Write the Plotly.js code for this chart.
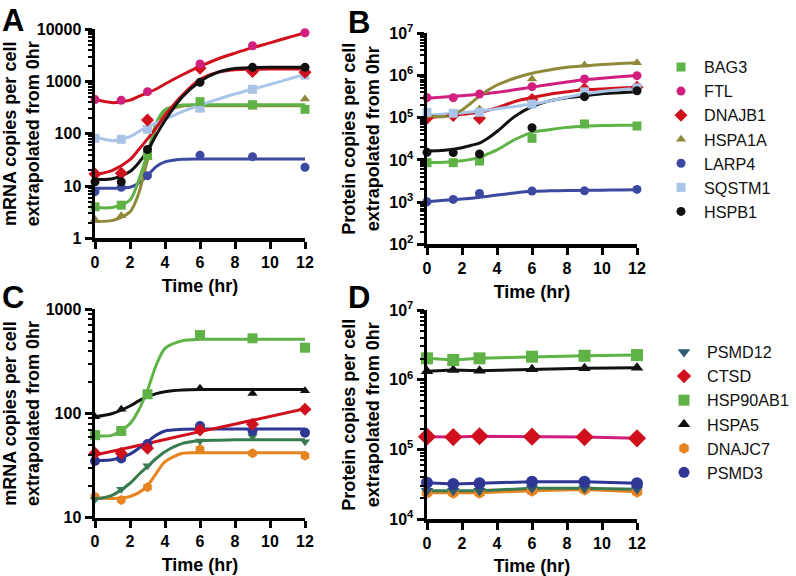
<!DOCTYPE html>
<html><head><meta charset="utf-8">
<script src="https://cdn.plot.ly/plotly-3.0.1.min.js"></script>
<style>html,body{margin:0;padding:0;background:#fff}#chart{width:796px;height:576px}</style>
</head><body><div id="chart"></div>
<script>
// ---------- DATA ----------
const timePts = [0, 1.5, 3, 6, 9, 12];
const fitTime = [0, 1, 2, 2.5, 3, 3.5, 4, 5, 6, 7, 8, 9, 10, 11, 12];

// Panel A: mRNA (markers)
const aBAG3   = [4.0, 4.3, 39, 412, 360, 294];
const aFTL    = [452, 437, 640, 2170, 4850, 8600];
const aDNAJB1 = [17, 17.5, 184, 1790, 1550, 1500];
const aHSPA1A = [2.3, 2.7, 35, 294, 321, 463];
const aLARP4  = [7.8, 9.5, 15.8, 39, 36.5, 22.9];
const aSQSTM1 = [82, 78.5, 122, 310, 710, 1330];
const aHSPB1  = [12.1, 12.1, 50, 967, 1870, 1870];
// Panel A: fitted curves
const aFitBAG3   = [3.9, 3.9, 5.4, 13, 42, 160, 290, 355, 360, 360, 360, 360, 360, 360, 360];
const aFitFTL    = [452, 394, 440, 520, 610, 720, 900, 1350, 1950, 2700, 3500, 4450, 5500, 6900, 8500];
const aFitDNAJB1 = [16.5, 20, 32, 50, 80, 130, 225, 550, 1100, 1500, 1680, 1720, 1730, 1730, 1730];
const aFitHSPA1A = [2.1, 2.2, 3.2, 7.3, 32, 137, 265, 340, 345, 345, 345, 345, 345, 345, 345];
const aFitLARP4  = [9.1, 9.1, 9.5, 11.3, 16, 23.5, 29, 32.5, 33, 33, 33, 33, 33, 33, 33];
const aFitSQSTM1 = [88, 74, 88, 110, 137, 160, 190, 265, 356, 457, 577, 710, 885, 1100, 1380];
const aFitHSPB1  = [13.5, 13.8, 19, 28, 48, 95, 180, 510, 1000, 1500, 1780, 1850, 1870, 1870, 1870];

// Panel B: protein (markers)
const bBAG3   = [8.6e3, 8.6e3, 9.4e3, 3.25e4, 7.1e4, 6.35e4];
const bFTL    = [2.98e5, 2.98e5, 3.65e5, 5.43e5, 8.26e5, 9.9e5];
const bDNAJB1 = [9.7e4, 1.12e5, 9.7e4, 2.7e5, 4.8e5, 5.25e5];
const bHSPA1A = [1.12e5, 1.27e5, 1.6e5, 8.3e5, 1.77e6, 2.0e6];
const bLARP4  = [1.02e3, 1.16e3, 1.6e3, 1.83e3, 1.85e3, 2.0e3];
const bSQSTM1 = [1.34e5, 1.27e5, 1.34e5, 2.1e5, 4.1e5, 5.1e5];
const bHSPB1  = [1.51e4, 1.49e4, 1.38e4, 5.8e4, 3.15e5, 4.36e5];
// Panel B: fitted curves
const bFitBAG3   = [8.7e3, 8.8e3, 9.5e3, 1.03e4, 1.13e4, 1.4e4, 1.72e4, 3.0e4, 4.5e4, 5.2e4, 5.9e4, 6.3e4, 6.5e4, 6.6e4, 6.6e4];
const bFitFTL    = [2.9e5, 3.1e5, 3.3e5, 3.45e5, 3.6e5, 3.8e5, 4.0e5, 4.6e5, 5.3e5, 6.1e5, 7.0e5, 7.9e5, 8.6e5, 9.3e5, 1.0e6];
const bFitDNAJB1 = [1.0e5, 1.1e5, 1.2e5, 1.27e5, 1.34e5, 1.5e5, 1.72e5, 2.4e5, 3.0e5, 3.6e5, 4.1e5, 4.6e5, 4.8e5, 5.05e5, 5.3e5];
const bFitHSPA1A = [1.13e5, 1.06e5, 1.52e5, 2.2e5, 3.27e5, 4.5e5, 5.96e5, 8.6e5, 1.13e6, 1.35e6, 1.56e6, 1.7e6, 1.83e6, 1.92e6, 2.0e6];
const bFitLARP4  = [1.02e3, 1.1e3, 1.18e3, 1.23e3, 1.3e3, 1.38e3, 1.47e3, 1.65e3, 1.8e3, 1.85e3, 1.88e3, 1.9e3, 1.92e3, 1.94e3, 1.95e3];
const bFitSQSTM1 = [1.13e5, 1.22e5, 1.3e5, 1.37e5, 1.43e5, 1.52e5, 1.62e5, 1.85e5, 2.1e5, 2.5e5, 3.05e5, 3.7e5, 4.2e5, 4.6e5, 4.9e5];
const bFitHSPB1  = [1.63e4, 1.7e4, 1.95e4, 2.2e4, 2.5e4, 3.3e4, 4.7e4, 1.06e5, 1.82e5, 2.5e5, 2.98e5, 3.3e5, 3.7e5, 3.9e5, 4.13e5];

// Panel C: mRNA (markers)
const cPSMD12   = [15, 18.7, 31.5, 54.5, 60, 53.6];
const cCTSD     = [41.5, 41.5, 46.4, 69.5, 79, 110];
const cHSP90AB1 = [62, 68, 153, 566, 527, 428];
const cHSPA5    = [93, 110, 145, 175, 156, 165];
const cDNAJC7   = [15.9, 14.8, 19.6, 45.3, 41.5, 39.4];
const cPSMD3    = [35, 37, 51, 76, 68, 65.5];
// Panel C: fitted curves
const cFitPSMD12   = [15, 16.5, 21.4, 26, 31, 37, 43, 51.7, 54.8, 55.5, 56, 56, 56, 56, 56];
const ctsdFitTime  = [0, 3, 6, 9, 12];
const cFitCTSD     = [40, 51.5, 67, 86, 111];
const cFitHSP90AB1 = [61, 62, 80, 108, 168, 292, 422, 500, 515, 515, 515, 515, 515, 515, 515];
const cFitHSPA5    = [93, 100, 118, 132, 145, 155, 162, 168, 170, 170, 170, 170, 170, 170, 170];
const cFitDNAJC7   = [15.5, 15.3, 16, 17.4, 20.3, 26.7, 34.5, 41.5, 42, 42, 42, 42, 42, 42, 42];
const cFitPSMD3    = [35.5, 36, 40.8, 46.4, 53.6, 62, 68, 70.5, 71, 71, 71, 71, 71, 71, 71];

// Panel D: protein
const dPSMD12   = [2.57e4, 2.57e4, 2.57e4, 2.78e4, 2.78e4, 2.7e4];
const dCTSD     = [1.53e5, 1.51e5, 1.55e5, 1.53e5, 1.51e5, 1.45e5];
const dHSP90AB1 = [2.03e6, 1.92e6, 2.03e6, 2.14e6, 2.21e6, 2.26e6];
const dHSPA5    = [1.33e6, 1.38e6, 1.35e6, 1.41e6, 1.46e6, 1.49e6];
const dDNAJC7   = [2.4e4, 2.4e4, 2.4e4, 2.57e4, 2.67e4, 2.48e4];
const dPSMD3    = [3.35e4, 3.2e4, 3.28e4, 3.46e4, 3.46e4, 3.28e4];

const xTickLabels = ['0', '2', '4', '6', '8', '10', '12'];
const yTickTextA = ['1', '10', '100', '1000', '10000'];
const yTickTextB = ['10<sup>2</sup>', '10<sup>3</sup>', '10<sup>4</sup>', '10<sup>5</sup>', '10<sup>6</sup>', '10<sup>7</sup>'];
const yTickTextC = ['10', '100', '1000'];
const yTickTextD = ['10<sup>4</sup>', '10<sup>5</sup>', '10<sup>6</sup>', '10<sup>7</sup>'];

// ---------- STYLE ----------
const COL = {
  green: '#5fb246', magenta: '#d11f7e', red: '#d0111d', olive: '#8e8a3a',
  navy: '#3b49a0', navy2: '#2f3795', lblue: '#a9c4e6', black: '#111111',
  teal: '#2f5a72', dkgreen: '#3a7b52', orange: '#e6841f'
};
const FONT = 'Arial, "Liberation Sans", sans-serif';
const traces = [];

function fit(xa, ya, x, y, color) {
  traces.push({x: x, y: y, xaxis: xa, yaxis: ya, mode: 'lines', type: 'scatter',
    line: {color: color, width: 3, shape: 'spline', smoothing: 0.8}, showlegend: false, hoverinfo: 'skip'});
}
function pts(xa, ya, y, name, color, symbol, size, lg) {
  traces.push({x: timePts, y: y, xaxis: xa, yaxis: ya, mode: 'markers', type: 'scatter', name: name,
    marker: {color: color, symbol: symbol, size: size}, cliponaxis: false,
    showlegend: !!lg, legend: lg || 'legend'});
}

// Panel A
fit('x', 'y', fitTime, aFitLARP4, COL.navy);
fit('x', 'y', fitTime, aFitHSPA1A, COL.olive);
fit('x', 'y', fitTime, aFitBAG3, COL.green);
fit('x', 'y', fitTime, aFitSQSTM1, COL.lblue);
fit('x', 'y', fitTime, aFitDNAJB1, COL.red);
fit('x', 'y', fitTime, aFitHSPB1, COL.black);
fit('x', 'y', fitTime, aFitFTL, COL.red);
pts('x', 'y', aLARP4, 'LARP4', COL.navy, 'circle', 9);
pts('x', 'y', aHSPA1A, 'HSPA1A', COL.olive, 'triangle-up', 9);
pts('x', 'y', aSQSTM1, 'SQSTM1', COL.lblue, 'square', 9);
pts('x', 'y', aBAG3, 'BAG3', COL.green, 'square', 9);
pts('x', 'y', aDNAJB1, 'DNAJB1', COL.red, 'diamond', 10);
pts('x', 'y', aHSPB1, 'HSPB1', COL.black, 'circle', 9);
pts('x', 'y', aFTL, 'FTL', COL.magenta, 'circle', 9);

// Panel B
fit('x2', 'y2', fitTime, bFitLARP4, COL.navy);
fit('x2', 'y2', fitTime, bFitBAG3, COL.green);
fit('x2', 'y2', fitTime, bFitHSPB1, COL.black);
fit('x2', 'y2', fitTime, bFitDNAJB1, COL.red);
fit('x2', 'y2', fitTime, bFitSQSTM1, COL.lblue);
fit('x2', 'y2', fitTime, bFitFTL, COL.magenta);
fit('x2', 'y2', fitTime, bFitHSPA1A, COL.olive);
pts('x2', 'y2', bBAG3, 'BAG3', COL.green, 'square', 9, 'legend');
pts('x2', 'y2', bFTL, 'FTL', COL.magenta, 'circle', 9, 'legend');
pts('x2', 'y2', bDNAJB1, 'DNAJB1', COL.red, 'diamond', 10, 'legend');
pts('x2', 'y2', bHSPA1A, 'HSPA1A', COL.olive, 'triangle-up', 9, 'legend');
pts('x2', 'y2', bLARP4, 'LARP4', COL.navy, 'circle', 9, 'legend');
pts('x2', 'y2', bSQSTM1, 'SQSTM1', COL.lblue, 'square', 9, 'legend');
pts('x2', 'y2', bHSPB1, 'HSPB1', COL.black, 'circle', 9, 'legend');

// Panel C
fit('x3', 'y3', fitTime, cFitDNAJC7, COL.orange);
fit('x3', 'y3', fitTime, cFitPSMD12, COL.dkgreen);
fit('x3', 'y3', fitTime, cFitPSMD3, COL.navy2);
fit('x3', 'y3', ctsdFitTime, cFitCTSD, COL.red);
fit('x3', 'y3', fitTime, cFitHSPA5, COL.black);
fit('x3', 'y3', fitTime, cFitHSP90AB1, COL.green);
pts('x3', 'y3', cDNAJC7, 'DNAJC7', COL.orange, 'hexagon', 10);
pts('x3', 'y3', cPSMD12, 'PSMD12', COL.dkgreen, 'triangle-down', 9);
pts('x3', 'y3', cPSMD3, 'PSMD3', COL.navy2, 'circle', 10);
pts('x3', 'y3', cCTSD, 'CTSD', COL.red, 'diamond', 10);
pts('x3', 'y3', cHSPA5, 'HSPA5', COL.black, 'triangle-up', 9);
pts('x3', 'y3', cHSP90AB1, 'HSP90AB1', COL.green, 'square', 10);

// Panel D (straight connecting lines)
function dline(y, color) {
  traces.push({x: timePts, y: y, xaxis: 'x4', yaxis: 'y4', mode: 'lines', type: 'scatter',
    line: {color: color, width: 3}, showlegend: false, hoverinfo: 'skip'});
}
dline(dDNAJC7, COL.orange);
dline(dPSMD12, COL.dkgreen);
dline(dPSMD3, COL.navy2);
dline(dCTSD, COL.magenta);
dline(dHSPA5, COL.black);
dline(dHSP90AB1, COL.green);
pts('x4', 'y4', dDNAJC7, 'DNAJC7', COL.orange, 'hexagon', 12);
pts('x4', 'y4', dPSMD12, 'PSMD12', COL.teal, 'triangle-down', 11);
pts('x4', 'y4', dPSMD3, 'PSMD3', COL.navy2, 'circle', 12);
pts('x4', 'y4', dCTSD, 'CTSD', COL.red, 'diamond', 14);
pts('x4', 'y4', dHSPA5, 'HSPA5', COL.black, 'triangle-up', 11);
pts('x4', 'y4', dHSP90AB1, 'HSP90AB1', COL.green, 'square', 12);
// Legend for D, in reference order
const legD = [['PSMD12', COL.teal, 'triangle-down'], ['CTSD', COL.red, 'diamond'], ['HSP90AB1', COL.green, 'square'],
              ['HSPA5', COL.black, 'triangle-up'], ['DNAJC7', COL.orange, 'hexagon'], ['PSMD3', COL.navy2, 'circle']];
legD.forEach(function (e) {
  traces.push({x: [null], y: [null], xaxis: 'x4', yaxis: 'y4', mode: 'markers', type: 'scatter', name: e[0],
    marker: {color: e[1], symbol: e[2], size: 11}, legend: 'legend2', showlegend: true});
});

// ---------- AXES ----------
const W = 796, H = 576;
function px2x(p) { return p / W; }
function px2y(p) { return 1 - p / H; }
function minorVals(lo, hi) {
  const v = [];
  for (let e = lo; e < hi; e++) for (let m = 2; m <= 9; m++) v.push(m * Math.pow(10, e));
  return v;
}
const tickFont = {family: FONT, size: 16, weight: 'bold', color: '#000'};
const titleFont = {family: FONT, size: 18, weight: 'bold', color: '#000'};
function xax(l, r, anchor) {
  return {domain: [px2x(l), px2x(r)], anchor: anchor, range: [0, 12], tickmode: 'array',
    tickvals: [0, 2, 4, 6, 8, 10, 12], ticktext: xTickLabels,
    showline: true, linewidth: 3.5, linecolor: '#000', ticks: 'outside', ticklen: 7, tickwidth: 3, tickcolor: '#000',
    showgrid: false, zeroline: false, tickfont: tickFont, fixedrange: true,
    title: {text: 'Time (hr)', font: titleFont, standoff: 10}};
}
function yax(t, b, anchor, lo, hi, text, title, stand) {
  const vals = [];
  for (let e = lo; e <= hi; e++) vals.push(Math.pow(10, e));
  return {domain: [px2y(b), px2y(t)], anchor: anchor, type: 'log', range: [lo, hi],
    tickmode: 'array', tickvals: vals, ticktext: text,
    minor: {tickmode: 'array', tickvals: minorVals(lo, hi), ticks: 'outside', ticklen: 4, tickwidth: 2, tickcolor: '#000', showgrid: false},
    showline: true, linewidth: 3.5, linecolor: '#000', ticks: 'outside', ticklen: 7, tickwidth: 3, tickcolor: '#000',
    showgrid: false, zeroline: false, tickfont: tickFont, fixedrange: true,
    title: {text: title, font: titleFont, standoff: stand}};
}

const mrnaTitle = 'mRNA copies per cell<br>extrapolated from 0hr';
const protTitle = 'Protein copies per cell<br>extrapolated from 0hr';

const layout = {
  width: W, height: H, margin: {l: 0, r: 0, t: 0, b: 0},
  paper_bgcolor: '#fff', plot_bgcolor: '#fff',
  font: {family: FONT, color: '#000'},
  xaxis: xax(95, 305, 'y'),
  yaxis: yax(29.3, 238.3, 'x', 0, 4, yTickTextA, mrnaTitle, 2),
  xaxis2: xax(427, 637, 'y2'),
  yaxis2: yax(33.3, 244.3, 'x2', 2, 7, yTickTextB, protTitle, 6),
  xaxis3: xax(95, 305, 'y3'),
  yaxis3: yax(309.3, 517.7, 'x3', 1, 3, yTickTextC, mrnaTitle, 2),
  xaxis4: xax(427, 637, 'y4'),
  yaxis4: yax(310, 519.3, 'x4', 4, 7, yTickTextD, protTitle, 6),
  legend: {x: px2x(658), y: px2y(50), xanchor: 'left', yanchor: 'top', bgcolor: 'rgba(0,0,0,0)',
    font: {family: FONT, size: 16.2, color: '#111'}, itemwidth: 36, tracegroupgap: 0},
  legend2: {x: px2x(661), y: px2y(335), xanchor: 'left', yanchor: 'top', bgcolor: 'rgba(0,0,0,0)',
    font: {family: FONT, size: 16.2, color: '#111'}, itemwidth: 36, tracegroupgap: 0},
  annotations: [
    {text: 'A', x: px2x(0), y: px2y(1), xanchor: 'left', yanchor: 'top'},
    {text: 'B', x: px2x(346), y: px2y(3), xanchor: 'left', yanchor: 'top'},
    {text: 'C', x: px2x(0), y: px2y(278), xanchor: 'left', yanchor: 'top'},
    {text: 'D', x: px2x(346), y: px2y(278), xanchor: 'left', yanchor: 'top'}
  ].map(function (a) {
    return Object.assign({xref: 'paper', yref: 'paper', showarrow: false,
      font: {family: FONT, size: 31, weight: 'bold', color: '#000'}}, a);
  })
};

Plotly.newPlot('chart', traces, layout, {staticPlot: true, displayModeBar: false});
</script>
</body></html>
